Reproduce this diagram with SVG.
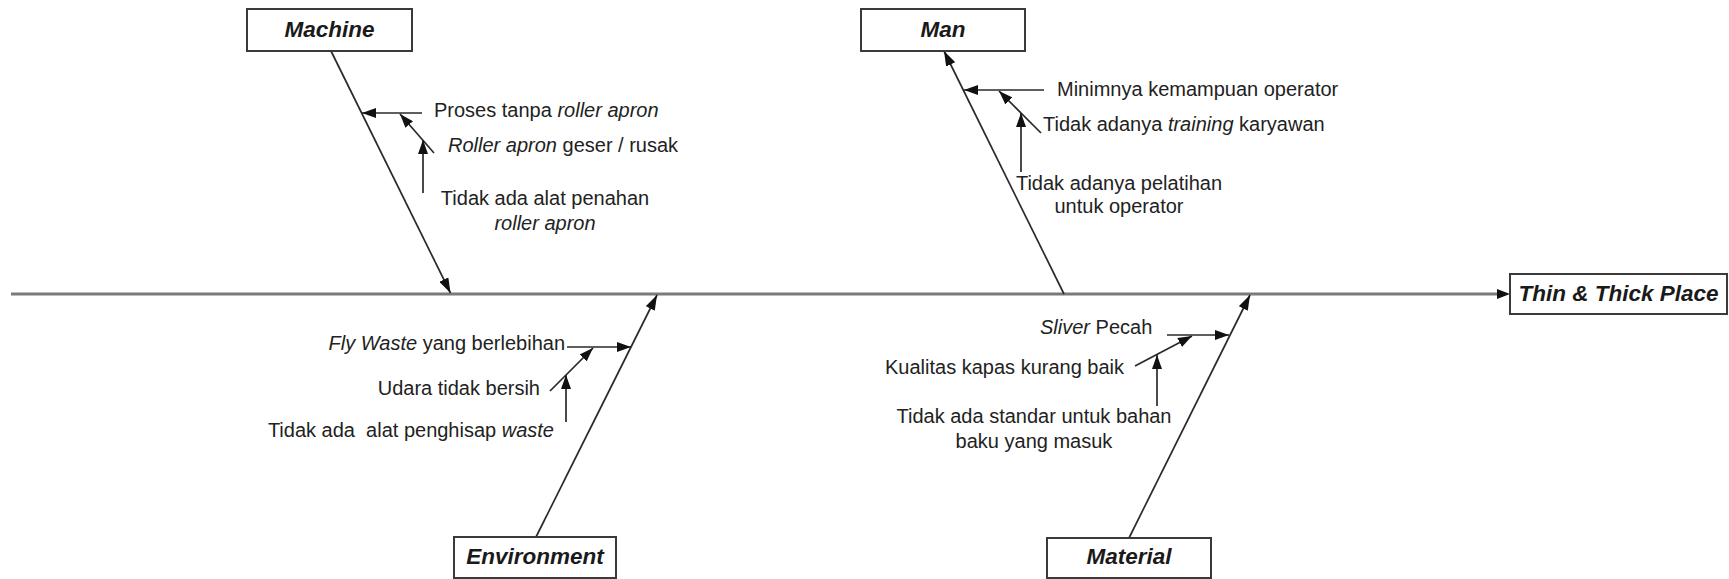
<svg xmlns="http://www.w3.org/2000/svg" width="1729" height="579" viewBox="0 0 1729 579">
  <defs>
    <marker id="tri" viewBox="0 0 15 10" refX="15" refY="5" markerWidth="15" markerHeight="10" markerUnits="userSpaceOnUse" orient="auto">
      <path d="M0,0 L15,5 L0,10 Z" fill="#111"/>
    </marker>
    <marker id="triSm" viewBox="0 0 14 10" refX="14" refY="5" markerWidth="14" markerHeight="10" markerUnits="userSpaceOnUse" orient="auto">
      <path d="M0,0 L14,5 L0,10 Z" fill="#111"/>
    </marker>
  </defs>
  <style>
    .box { fill: #ffffff; stroke: #3a3a3a; stroke-width: 2; }
    .title { font-family: "Liberation Sans", Arial, sans-serif; font-size: 22.5px; font-weight: bold; font-style: italic; fill: #1a1a1a; text-anchor: middle; }
    .lbl { font-family: "Liberation Sans", Arial, sans-serif; font-size: 20px; fill: #222; }
    .it { font-style: italic; }
    .mid { text-anchor: middle; }
    .end { text-anchor: end; }
    .spine { stroke: #7a7a7a; stroke-width: 3; fill: none; }
    .bone { stroke: #2a2a2a; stroke-width: 1.7; fill: none; marker-end: url(#tri); }
    .sub { stroke: #2a2a2a; stroke-width: 1.7; fill: none; marker-end: url(#triSm); }
  </style>
  <rect width="1729" height="579" fill="#ffffff"/>

  <!-- connectors: spine, main bones and cause arrows -->
  <g id="connectors">
    <line class="spine" x1="11" y1="294" x2="1497" y2="294"/>
    <path d="M1497,289 L1510,294 L1497,299 Z" fill="#111"/>

    <line class="bone" x1="331" y1="51" x2="450.5" y2="293"/>
    <line class="bone" x1="1064" y1="294" x2="944" y2="51"/>
    <line class="bone" x1="536" y1="537" x2="657" y2="295"/>
    <line class="bone" x1="1129" y1="538" x2="1250" y2="295"/>

    <!-- machine causes -->
    <line class="sub" x1="422" y1="113" x2="362" y2="113"/>
    <line class="sub" x1="434" y1="153" x2="400" y2="114"/>
    <line class="sub" x1="423" y1="193" x2="423" y2="140"/>

    <!-- man causes -->
    <line class="sub" x1="1044" y1="90" x2="964" y2="90"/>
    <line class="sub" x1="1041" y1="133" x2="999" y2="91"/>
    <line class="sub" x1="1021" y1="172" x2="1021" y2="113"/>

    <!-- environment causes -->
    <line class="sub" x1="567" y1="347" x2="631" y2="347"/>
    <line class="sub" x1="550" y1="391" x2="593" y2="348"/>
    <line class="sub" x1="566" y1="422" x2="566" y2="375"/>

    <!-- material causes -->
    <line class="sub" x1="1167" y1="335" x2="1229" y2="335"/>
    <line class="sub" x1="1135" y1="366" x2="1192" y2="336"/>
    <line class="sub" x1="1157" y1="406" x2="1157" y2="355"/>
  </g>

  <g id="machine">
    <rect class="box" x="247" y="9" width="165" height="42"/>
    <text class="title" x="329.5" y="37">Machine</text>
  </g>

  <g id="man">
    <rect class="box" x="861" y="9" width="164" height="42"/>
    <text class="title" x="943" y="37">Man</text>
  </g>

  <g id="environment">
    <rect class="box" x="454" y="537" width="162" height="41"/>
    <text class="title" x="535" y="564">Environment</text>
  </g>

  <g id="material">
    <rect class="box" x="1047" y="538" width="164" height="40"/>
    <text class="title" x="1129" y="564">Material</text>
  </g>

  <g id="effect">
    <rect class="box" x="1510" y="274" width="217" height="40"/>
    <text class="title" x="1618.5" y="301">Thin &amp; Thick Place</text>
  </g>

  <g id="machine-causes">
    <text class="lbl" x="434" y="117">Proses tanpa <tspan class="it">roller apron</tspan></text>
    <text class="lbl" x="448" y="152"><tspan class="it">Roller apron</tspan> geser / rusak</text>
    <text class="lbl mid" x="545" y="205">Tidak ada alat penahan</text>
    <text class="lbl mid it" x="545" y="230">roller apron</text>
  </g>

  <g id="man-causes">
    <text class="lbl" x="1057" y="96">Minimnya kemampuan operator</text>
    <text class="lbl" x="1043" y="131">Tidak adanya <tspan class="it">training</tspan> karyawan</text>
    <text class="lbl mid" x="1119" y="190">Tidak adanya pelatihan</text>
    <text class="lbl mid" x="1119" y="213">untuk operator</text>
  </g>

  <g id="environment-causes">
    <text class="lbl end" x="565" y="350"><tspan class="it">Fly Waste</tspan> yang berlebihan</text>
    <text class="lbl end" x="540" y="395">Udara tidak bersih</text>
    <text class="lbl end" x="554" y="437" xml:space="preserve">Tidak ada  alat penghisap <tspan class="it">waste</tspan></text>
  </g>

  <g id="material-causes">
    <text class="lbl" x="1040" y="334"><tspan class="it">Sliver</tspan> Pecah</text>
    <text class="lbl" x="885" y="374">Kualitas kapas kurang baik</text>
    <text class="lbl mid" x="1034" y="423">Tidak ada standar untuk bahan</text>
    <text class="lbl mid" x="1034" y="448">baku yang masuk</text>
  </g>
</svg>
